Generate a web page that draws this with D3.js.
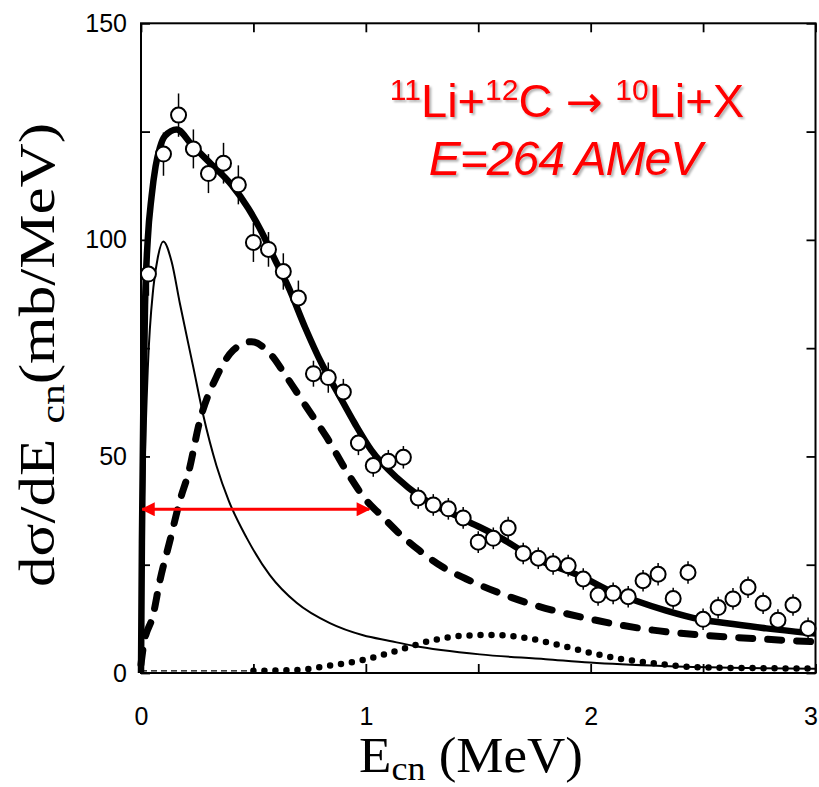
<!DOCTYPE html>
<html>
<head>
<meta charset="utf-8">
<script src="https://cdn.jsdelivr.net/npm/d3@7"></script>
<style>
  html, body { margin: 0; padding: 0; background: #fff; }
  svg { display: block; }
</style>
</head>
<body>
<div id="chart"></div>
<script>
// measured cross section, 45 bins of 1/15 MeV
const pointE = [0.033, 0.100, 0.167, 0.233, 0.300, 0.367, 0.433, 0.500, 0.567, 0.633,
    0.700, 0.767, 0.833, 0.900, 0.967, 1.033, 1.100, 1.167, 1.233, 1.300,
    1.367, 1.433, 1.500, 1.567, 1.633, 1.700, 1.767, 1.833, 1.900, 1.967,
    2.033, 2.100, 2.167, 2.233, 2.300, 2.367, 2.433, 2.500, 2.567, 2.633,
    2.700, 2.767, 2.833, 2.900, 2.967];
const pointSigma = [92.1, 119.8, 128.8, 121.0, 115.3, 117.7, 112.7, 99.4, 97.8, 92.7,
    86.6, 69.1, 68.2, 64.9, 53.1, 47.9, 48.9, 49.8, 40.4, 38.8,
    37.9, 35.8, 30.2, 31.1, 33.5, 27.6, 26.5, 25.2, 24.8, 21.7,
    18.0, 18.4, 17.6, 21.3, 22.8, 17.2, 23.2, 12.4, 15.1, 17.1,
    19.8, 16.1, 12.2, 15.7, 10.3];
const pointErr = [5, 5, 5, 4.5, 4.5, 4.7, 4.5, 4.5, 4, 4.2,
    4, 3, 3.5, 3, 2.8, 2.6, 2.6, 2.6, 2.5, 2.5,
    2.5, 2.5, 2.5, 2.5, 2.6, 2.5, 2.5, 2.5, 2.5, 2.5,
    2.5, 2.5, 2.5, 2.5, 2.6, 2.5, 2.6, 2.5, 2.5, 2.5,
    2.5, 2.5, 2.5, 2.5, 2.5];

// total fit (thick solid)
const totalE = [0, 0.004, 0.01, 0.018, 0.03, 0.047, 0.065, 0.084, 0.107, 0.159,
    0.225, 0.314, 0.403, 0.477, 0.536, 0.596, 0.655, 0.729, 0.803, 0.877,
    0.951, 1.025, 1.14, 1.24, 1.447, 1.596, 1.744, 1.966, 2.1, 2.188,
    2.336, 2.484, 2.633, 2.781, 2.96, 3.0];
const totalSigma = [0, 30, 60, 85, 100, 110, 117, 121.3, 124, 125.5,
    122, 117.4, 112.7, 107.3, 101.9, 95.4, 89.2, 79.9, 71.5, 64.5,
    57.6, 51.4, 45, 40.8, 35.2, 31.3, 26.7, 22.1, 18.6, 16.9,
    14.4, 12.4, 11.3, 10.3, 9.3, 9.1];

// low-energy component (thin solid)
const thinE = [0, 0.006, 0.015, 0.03, 0.055, 0.075, 0.099, 0.136, 0.173, 0.233,
    0.277, 0.336, 0.39, 0.47, 0.573, 0.692, 0.84, 0.988, 1.107, 1.21,
    1.507, 1.8, 1.996, 2.32, 2.62, 3.0];
const thinSigma = [0, 20, 45, 70, 89, 96, 99.6, 95, 85.3, 70.5,
    59.5, 47.8, 39.8, 31.2, 22.6, 16.2, 11.5, 8.7, 7.4, 6.3,
    4.3, 3.2, 2.4, 1.6, 1.2, 1.0];

// second component (thick dashed)
const dashE = [0, 0.01, 0.055, 0.084, 0.129, 0.173, 0.21, 0.262, 0.336, 0.41,
    0.492, 0.573, 0.647, 0.736, 0.825, 0.921, 1.003, 1.062, 1.151, 1.24,
    1.344, 1.447, 1.65, 2.04, 2.277, 2.53, 2.78, 2.914, 3.0];
const dashSigma = [2, 5.9, 13.6, 21.3, 30.6, 39.8, 46, 58.3, 68.4, 74.5,
    76.5, 73.8, 68.4, 61.4, 54.5, 46, 39.8, 36.7, 32.1, 28.2,
    24.4, 21.7, 17.4, 12, 9.9, 8.6, 7.8, 7.4, 7.2];

// third component (dotted)
const dotE = [0.5, 0.69, 0.84, 0.988, 1.136, 1.284, 1.432, 1.551, 1.70, 1.847,
    1.996, 2.14, 2.29, 2.44, 2.6, 2.8, 3.0];
const dotSigma = [0.5, 0.7, 1.7, 3.0, 5.1, 7.4, 8.6, 8.8, 8.2, 6.6,
    4.7, 3.2, 2.2, 1.4, 1.2, 1.1, 1.0];

// fourth component near zero (thin dashed)
const tailE = [0, 0.5];
const tailSigma = [0.5, 0.5];

// width marker (red double arrow)
const arrowE = [0.005, 1.015];
const arrowSigma = 37.8;

const xTicks = [0, 0.5, 1, 1.5, 2, 2.5, 3];
const yTicks = [0, 25, 50, 75, 100, 125, 150];

function renderChart(containerId) {
    const width = 819;
    const height = 787;
    const plot = { left: 141, right: 815.5, top: 23.3, bottom: 673 };

    const svg = d3.select(`#${containerId}`)
        .append('svg')
        .attr('width', width)
        .attr('height', height);

    const defs = svg.append('defs');
    const shadow = defs.append('filter').attr('id', 'txtShadow')
        .attr('x', '-10%').attr('y', '-10%').attr('width', '120%').attr('height', '130%');
    shadow.append('feDropShadow')
        .attr('dx', 2).attr('dy', 2).attr('stdDeviation', 1.2)
        .attr('flood-color', '#000').attr('flood-opacity', 0.3);

    defs.append('marker')
        .attr('id', 'redHead')
        .attr('viewBox', '0 0 10 10')
        .attr('refX', 9).attr('refY', 5)
        .attr('markerUnits', 'userSpaceOnUse')
        .attr('markerWidth', 16).attr('markerHeight', 14)
        .attr('orient', 'auto-start-reverse')
        .append('path')
        .attr('d', 'M0,0 L10,5 L0,10 Z')
        .attr('fill', '#ff0000');

    const x = d3.scaleLinear().domain([0, 3]).range([plot.left, plot.right]);
    const y = d3.scaleLinear().domain([0, 150]).range([plot.bottom, plot.top]);

    const toPts = (xs, ys) => xs.map((e, i) => [e, ys[i]]);
    const line = d3.line()
        .x(d => x(d[0]))
        .y(d => y(d[1]))
        .curve(d3.curveMonotoneX);

    const g = svg.append('g');

    // model curves
    g.append('path')
        .attr('d', line(toPts(tailE, tailSigma)))
        .attr('fill', 'none').attr('stroke', '#000')
        .attr('stroke-width', 1.4).attr('stroke-dasharray', '6 4');

    g.append('path')
        .attr('d', line(toPts(dotE, dotSigma)))
        .attr('fill', 'none').attr('stroke', '#000')
        .attr('stroke-width', 6.5).attr('stroke-linecap', 'round')
        .attr('stroke-dasharray', '0 11');

    g.append('path')
        .attr('d', line(toPts(thinE, thinSigma)))
        .attr('fill', 'none').attr('stroke', '#000')
        .attr('stroke-width', 2);

    g.append('path')
        .attr('d', line(toPts(dashE, dashSigma)))
        .attr('fill', 'none').attr('stroke', '#000')
        .attr('stroke-width', 7).attr('stroke-linecap', 'round')
        .attr('stroke-dasharray', '14 15');

    g.append('path')
        .attr('d', line(toPts(totalE, totalSigma)))
        .attr('fill', 'none').attr('stroke', '#000')
        .attr('stroke-width', 6.5).attr('stroke-linejoin', 'round');

    // data points with error bars
    const pts = pointE.map((e, i) => ({ e: e, s: pointSigma[i], err: pointErr[i] }));

    g.selectAll('.err')
        .data(pts)
        .enter()
        .append('line')
        .attr('class', 'err')
        .attr('x1', d => x(d.e)).attr('x2', d => x(d.e))
        .attr('y1', d => y(d.s - d.err)).attr('y2', d => y(d.s + d.err))
        .attr('stroke', '#000').attr('stroke-width', 1.5);

    g.selectAll('.pt')
        .data(pts)
        .enter()
        .append('circle')
        .attr('class', 'pt')
        .attr('cx', d => x(d.e)).attr('cy', d => y(d.s))
        .attr('r', 7.5)
        .attr('fill', '#fff').attr('stroke', '#000').attr('stroke-width', 2);

    // red width arrow
    svg.append('line')
        .attr('x1', x(arrowE[0])).attr('x2', x(arrowE[1]))
        .attr('y1', y(arrowSigma)).attr('y2', y(arrowSigma))
        .attr('stroke', '#ff0000').attr('stroke-width', 3)
        .attr('marker-start', 'url(#redHead)')
        .attr('marker-end', 'url(#redHead)');

    // axes, ticks pointing inward on all four sides
    const tickFont = '"Liberation Sans", Arial, Helvetica, sans-serif';

    const bottom = svg.append('g')
        .attr('transform', `translate(0,${plot.bottom})`)
        .call(d3.axisBottom(x).tickValues(xTicks).tickSize(-9).tickPadding(34)
            .tickFormat(d => Number.isInteger(d) ? d : ''));
    const left = svg.append('g')
        .attr('transform', `translate(${plot.left},0)`)
        .call(d3.axisLeft(y).tickValues(yTicks).tickSize(-9).tickPadding(14)
            .tickFormat(d => d % 50 === 0 ? d : ''));
    const top = svg.append('g')
        .attr('transform', `translate(0,${plot.top})`)
        .call(d3.axisTop(x).tickValues(xTicks).tickSize(-9).tickFormat(''));
    const right = svg.append('g')
        .attr('transform', `translate(${plot.right},0)`)
        .call(d3.axisRight(y).tickValues(yTicks).tickSize(-9).tickFormat(''));

    [bottom, left, top, right].forEach(a => {
        a.select('.domain').remove();
        a.selectAll('.tick line').attr('stroke', '#000').attr('stroke-width', 1.8);
        a.selectAll('.tick text')
            .attr('fill', '#000')
            .style('font-family', tickFont)
            .style('font-size', '25px');
    });
    // last x label sits right at the page edge; nudge it in so it stays readable
    bottom.selectAll('.tick text').filter(d => d === 3).attr('dx', -5);

    svg.append('rect')
        .attr('x', plot.left).attr('y', plot.top)
        .attr('width', plot.right - plot.left)
        .attr('height', plot.bottom - plot.top)
        .attr('fill', 'none').attr('stroke', '#000').attr('stroke-width', 2);

    // axis titles
    const serif = '"Liberation Serif", "Times New Roman", Times, serif';

    const xTitle = svg.append('text')
        .attr('x', 471).attr('y', 772)
        .attr('text-anchor', 'middle')
        .attr('textLength', 224).attr('lengthAdjust', 'spacingAndGlyphs')
        .style('font-family', serif).style('font-size', '50px');
    xTitle.append('tspan').text('E');
    xTitle.append('tspan').attr('dy', 8).style('font-size', '34px').text('cn');
    xTitle.append('tspan').attr('dy', -8).text(' (MeV)');

    const yTitle = svg.append('text')
        .attr('transform', 'translate(54,355) rotate(-90)')
        .attr('text-anchor', 'middle')
        .attr('textLength', 464).attr('lengthAdjust', 'spacingAndGlyphs')
        .style('font-family', serif).style('font-size', '50px');
    yTitle.append('tspan').text('dσ/dE ');
    yTitle.append('tspan').attr('dy', 10).style('font-size', '34px').text('cn');
    yTitle.append('tspan').attr('dy', -10).text('(mb/MeV)');

    // reaction annotation
    const sans = '"Liberation Sans", Arial, Helvetica, sans-serif';
    const note = svg.append('g')
        .attr('filter', 'url(#txtShadow)')
        .style('font-family', sans)
        .attr('fill', '#ff0000');

    const l1 = note.append('text')
        .attr('x', 567).attr('y', 117)
        .attr('text-anchor', 'middle')
        .style('font-size', '47px');
    l1.append('tspan').attr('dy', -17).style('font-size', '30px').text('11');
    l1.append('tspan').attr('dy', 17).text('Li+');
    l1.append('tspan').attr('dy', -17).style('font-size', '30px').text('12');
    l1.append('tspan').attr('dy', 17).text('C ');
    l1.append('tspan').style('font-family', '"DejaVu Sans", sans-serif')
        .style('font-size', '44px').text('\u2192');
    l1.append('tspan').text(' ');
    l1.append('tspan').attr('dy', -17).style('font-size', '30px').text('10');
    l1.append('tspan').attr('dy', 17).text('Li+X');

    note.append('text')
        .attr('x', 565).attr('y', 175)
        .attr('text-anchor', 'middle')
        .style('font-size', '48px')
        .style('font-style', 'italic')
        .style('letter-spacing', '-1px')
        .text('E=264 AMeV');
}

renderChart('chart');
</script>
</body>
</html>
